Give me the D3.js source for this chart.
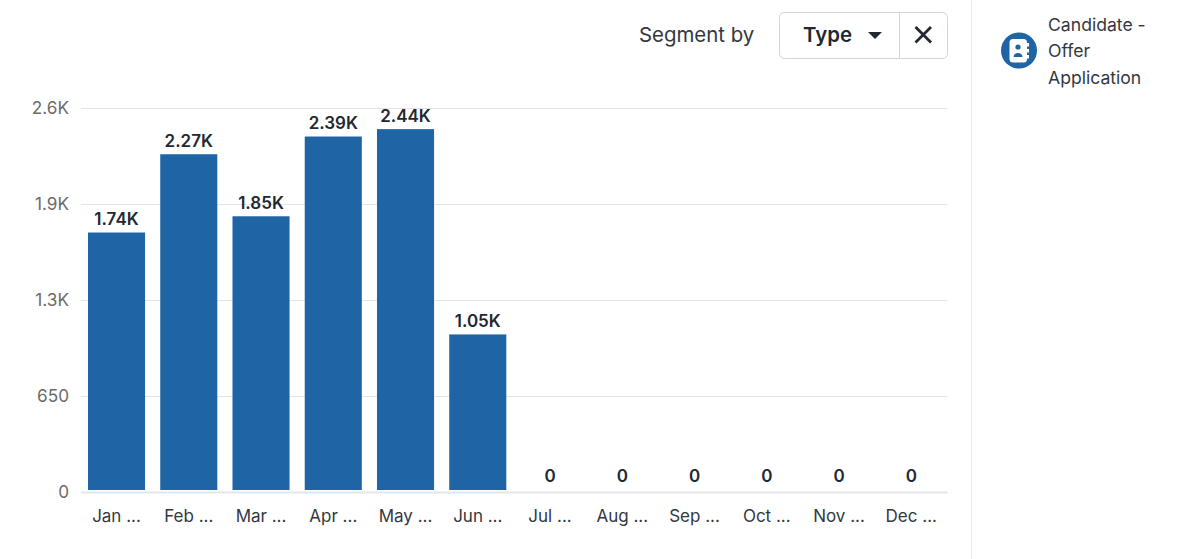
<!DOCTYPE html>
<html>
<head>
<meta charset="utf-8">
<script src="https://cdnjs.cloudflare.com/ajax/libs/d3/7.8.5/d3.min.js"></script>
<style>
  html, body { margin: 0; padding: 0; background: #fff; }
  svg { display: block; font-family: Inter, "Noto Sans", sans-serif; }
</style>
</head>
<body>
<script>
const WIDTH = 1200;
const HEIGHT = 559;

const months = ["Jan ...", "Feb ...", "Mar ...", "Apr ...", "May ...", "Jun ...", "Jul ...", "Aug ...", "Sep ...", "Oct ...", "Nov ...", "Dec ..."];
const values = [1740, 2270, 1850, 2390, 2440, 1050, 0, 0, 0, 0, 0, 0];
const valueLabels = ["1.74K", "2.27K", "1.85K", "2.39K", "2.44K", "1.05K", "0", "0", "0", "0", "0", "0"];
const yTicks = [0, 650, 1300, 1950, 2600];
const yTickLabels = ["0", "650", "1.3K", "1.9K", "2.6K"];
const legendLines = ["Candidate -", "Offer", "Application"];

const BLUE = "#1f65a6";

var svg = d3.select("body").append("svg")
    .attr("width", WIDTH)
    .attr("height", HEIGHT);

var x = d3.scaleBand().domain(months).range([80.4, 947.4]).paddingInner(0.21).paddingOuter(0.105);
var y = d3.scaleLinear().domain([0, 2600]).range([492.5, 108.5]);

// grid
svg.append("g").selectAll("line").data(yTicks).join("line")
    .attr("x1", 81).attr("x2", 947.5)
    .attr("y1", d => y(d)).attr("y2", d => y(d))
    .attr("stroke", d => d === 0 ? "#e3e6ea" : "#e4e4e4")
    .attr("stroke-width", d => d === 0 ? 2 : 1);

// y labels
svg.append("g").selectAll("text").data(yTicks).join("text")
    .attr("x", 69)
    .attr("y", d => y(d) + 5)
    .attr("text-anchor", "end")
    .attr("font-size", 17.2)
    .attr("fill", "#6b6b6b")
    .text((d, i) => yTickLabels[i]);

// bars sit above the baseline, empty months draw nothing
svg.append("g").selectAll("rect").data(values).join("rect")
    .attr("x", (d, i) => x(months[i]))
    .attr("y", d => y(d) - 3)
    .attr("width", x.bandwidth())
    .attr("height", d => d === 0 ? 0 : y(0) - y(d) + 0.5)
    .attr("fill", BLUE);

// value labels
svg.append("g").selectAll("text").data(values).join("text")
    .attr("x", (d, i) => x(months[i]) + x.bandwidth() / 2)
    .attr("y", d => y(d) - 10.5)
    .attr("text-anchor", "middle")
    .attr("font-size", 17)
    .attr("font-weight", 600)
    .attr("fill", "#222831")
    .text((d, i) => valueLabels[i]);

// x labels
svg.append("g").selectAll("text").data(months).join("text")
    .attr("x", d => x(d) + x.bandwidth() / 2)
    .attr("y", 522)
    .attr("text-anchor", "middle")
    .attr("font-size", 17)
    .attr("fill", "#33383f")
    .text(d => d);

// segment by control
svg.append("text").attr("x", 639).attr("y", 41.5)
    .attr("font-size", 20.4).attr("fill", "#33383f").text("Segment by");
svg.append("rect").attr("x", 779.5).attr("y", 12.5).attr("width", 168).attr("height", 46).attr("rx", 5)
    .attr("fill", "#fff").attr("stroke", "#d4d4d4");
svg.append("line").attr("x1", 899.5).attr("x2", 899.5).attr("y1", 13).attr("y2", 58).attr("stroke", "#d4d4d4");
svg.append("text").attr("x", 803).attr("y", 41.5)
    .attr("font-size", 20.4).attr("font-weight", 600).attr("fill", "#222831").text("Type");
svg.append("path").attr("d", "M868 32h14l-7 7z").attr("fill", "#222831");
svg.append("path").attr("d", "M915.5 27L931 42.5M931 27L915.5 42.5")
    .attr("stroke", "#222831").attr("stroke-width", 2.8).attr("fill", "none");

// legend panel
svg.append("line").attr("x1", 971.5).attr("x2", 971.5).attr("y1", 0).attr("y2", HEIGHT).attr("stroke", "#ececec");
svg.append("circle").attr("cx", 1019).attr("cy", 50.5).attr("r", 18).attr("fill", BLUE);
svg.append("rect").attr("x", 1009.5).attr("y", 39).attr("width", 17.5).attr("height", 23.5).attr("rx", 3.5).attr("fill", "#fff");
svg.append("rect").attr("x", 1026).attr("y", 43).attr("width", 3).attr("height", 3.5).attr("fill", "#fff");
svg.append("rect").attr("x", 1026).attr("y", 49).attr("width", 3).attr("height", 3.5).attr("fill", "#fff");
svg.append("rect").attr("x", 1026).attr("y", 55).attr("width", 3).attr("height", 3.5).attr("fill", "#fff");
svg.append("circle").attr("cx", 1018).attr("cy", 47).attr("r", 2.6).attr("fill", BLUE);
svg.append("path").attr("d", "M1013.5 57c0-5.5 9-5.5 9 0z").attr("fill", BLUE);

svg.append("g").selectAll("text").data(legendLines).join("text")
    .attr("x", 1048)
    .attr("y", (d, i) => 31 + i * 26.3)
    .attr("font-size", 17.6)
    .attr("fill", "#33383f")
    .text(d => d);
</script>
</body>
</html>
